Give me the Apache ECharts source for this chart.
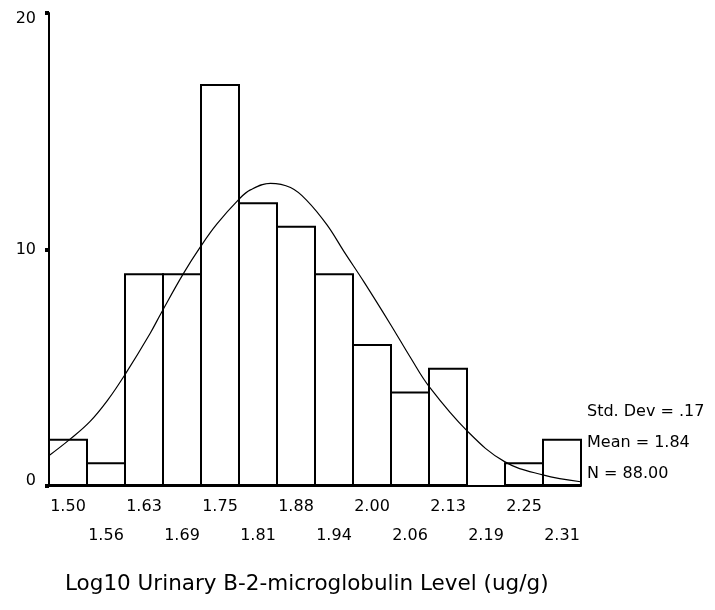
<!DOCTYPE html>
<html>
<head>
<meta charset="utf-8">
<script src="https://cdn.jsdelivr.net/npm/echarts@6/dist/echarts.min.js"></script>
<style>
  html, body { margin: 0; padding: 0; background: #fff; }
  #chart { width: 715px; height: 610px; }
</style>
</head>
<body>
<div id="chart"></div>
<script>
// bin labels (bin centres, width .0625) and counts per bin
var binLabels = ['1.50', '1.56', '1.63', '1.69', '1.75', '1.81', '1.88', '1.94', '2.00', '2.06', '2.13', '2.19', '2.25', '2.31']
var counts = [2, 1, 9, 9, 17, 12, 11, 9, 6, 4, 5, 0, 1, 2]

// normal curve, points
var curveX = [1.469, 1.503, 1.536, 1.565, 1.594, 1.635, 1.654, 1.690, 1.718, 1.745, 1.781, 1.800, 1.833, 1.866, 1.893, 1.926, 1.954, 1.987, 2.031, 2.064, 2.094, 2.156, 2.218, 2.281, 2.343]
var curveY = [1.29, 1.97, 2.72, 3.62, 4.72, 6.45, 7.35, 8.99, 10.12, 11.08, 12.12, 12.52, 12.80, 12.62, 12.07, 11.04, 9.91, 8.62, 6.81, 5.40, 4.20, 2.34, 1.03, 0.47, 0.18]

var statLines = ['Std. Dev = .17', 'Mean = 1.84', 'N = 88.00']
var xTitle = 'Log10 Urinary B-2-microglobulin Level (ug/g)'

var font = 'DejaVu Sans, sans-serif'

var curveData = curveX.map(function (x, i) {
  return [x, curveY[i]]
})

// stats box on the right
var statGraphics = statLines.map(function (s, i) {
  return {
    type: 'text',
    left: 587,
    top: 404 + i * 31,
    style: { text: s, fill: '#000', font: '16px ' + font }
  }
})

var borderW = 2

var myChart = echarts.init(document.getElementById('chart'))
var option = {
  backgroundColor: '#fff',
  animation: false,
  title: {
    text: xTitle,
    left: 60,
    top: 568,
    textStyle: { fontFamily: font, fontSize: 21.5, fontWeight: 'normal', color: '#000' }
  },
  // 14 bins x 38px, so bar edges fall on whole pixels
  grid: { left: 49, right: 134, top: 13, bottom: 124, containLabel: false },
  xAxis: [
    {
      type: 'category',
      data: binLabels,
      boundaryGap: true,
      axisLine: { lineStyle: { color: '#000', width: 2 } },
      axisTick: { alignWithLabel: true, length: 3, lineStyle: { color: '#000', width: 5 } },
      axisLabel: {
        interval: 0,
        margin: 6,
        color: '#000',
        fontFamily: font,
        fontSize: 16,
        lineHeight: 29,
        formatter: function (v, i) {
          return i % 2 === 0 ? v : '\n' + v   // 交错两行
        }
      },
      splitLine: { show: false }
    },
    {
      type: 'value',
      min: 1.46875,
      max: 2.34375,
      show: false
    }
  ],
  yAxis: {
    type: 'value',
    min: 0,
    max: 20,
    interval: 10,
    axisLine: { show: true, lineStyle: { color: '#000', width: 2 } },
    axisTick: { show: true, length: 4, lineStyle: { color: '#000', width: 4 } },
    axisLabel: {
      color: '#000',
      fontFamily: font,
      fontSize: 16,
      margin: 13,
      formatter: function (v) {
        if (v === 20) return '{t|' + v + '}'
        if (v === 0) return '{b|' + v + '}'
        return v
      },
      rich: {
        t: { padding: [11, 0, 0, 0], fontFamily: font, fontSize: 16, color: '#000' },
        b: { padding: [0, 0, 10, 0], fontFamily: font, fontSize: 16, color: '#000' }
      }
    },
    splitLine: { show: false }
  },
  series: [
    {
      type: 'bar',
      data: counts,
      // echarts insets the border by half its width, so widen the bar by the
      // border to make neighbouring bars share one edge line
      barWidth: 38 + borderW,
      itemStyle: { color: '#fff', borderColor: '#000', borderWidth: borderW },
      z: 2
    },
    {
      type: 'line',
      xAxisIndex: 1,
      data: curveData,
      smooth: 0.4,
      showSymbol: false,
      lineStyle: { color: '#000', width: 1.2 },
      z: 3
    }
  ],
  graphic: statGraphics
}
myChart.setOption(option)
</script>
</body>
</html>
